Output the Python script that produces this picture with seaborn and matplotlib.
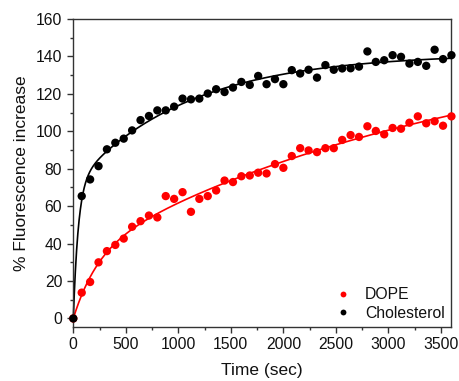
import numpy as np
import pandas as pd
import matplotlib
matplotlib.use("Agg")
import matplotlib.pyplot as plt
import seaborn as sns
from matplotlib.ticker import MultipleLocator

time_sec = [0, 80, 160, 240, 320, 400, 480, 560, 640, 720, 800, 880, 960, 1040, 1120,
            1200, 1280, 1360, 1440, 1520, 1600, 1680, 1760, 1840, 1920, 2000, 2080, 2160,
            2240, 2320, 2400, 2480, 2560, 2640, 2720, 2800, 2880, 2960, 3040, 3120, 3200,
            3280, 3360, 3440, 3520, 3600]
dope = [0, 13.8, 19.5, 30, 36, 39.3, 42.7, 49, 52, 55, 54, 65.4, 63.9, 67.5, 57,
        63.9, 65.4, 68.4, 73.7, 72.9, 76, 76.4, 77.9, 77.5, 82.5, 80.5, 86.8, 91,
        89.8, 88.9, 91, 91, 95.4, 98, 97, 102.7, 100.2, 98.4, 101.8, 101.4, 104.6,
        108, 104.3, 105.4, 103, 108]
cholesterol = [0, 65.4, 74.3, 81.4, 90.4, 93.9, 96.1, 100.5, 106, 108.2, 111.2, 111.2, 113.2,
               117.5, 117.1, 117.5, 120.2, 122.5, 121, 123.4, 126.4, 124.8, 129.6, 125.2,
               127.9, 125.2, 132.7, 130.9, 132.9, 128.7, 135.4, 132.9, 133.6, 133.7, 134.6,
               142.7, 137.1, 138, 140.7, 139.8, 136.2, 137.1, 135, 143.6, 138.6, 140.7]
series_names = ["DOPE", "Cholesterol"]
colors = {"DOPE": "#ff0000", "Cholesterol": "#000000"}

df = pd.DataFrame({
    "Time (sec)": time_sec * 2,
    "value": dope + cholesterol,
    "series": ["DOPE"] * len(time_sec) + ["Cholesterol"] * len(time_sec),
})


def fit_double_exp(t, y):
    t = np.asarray(t, float)
    y = np.asarray(y, float)
    best = None
    ks = np.logspace(-5, -1, 60)
    for i, k1 in enumerate(ks):
        for k2 in ks[i + 1:]:
            X = np.column_stack([1 - np.exp(-k1 * t), 1 - np.exp(-k2 * t)])
            coef, *_ = np.linalg.lstsq(X, y, rcond=None)
            r = np.sum((X @ coef - y) ** 2)
            if best is None or r < best[0]:
                best = (r, k1, k2, coef)
    _, k1, k2, coef = best
    return lambda tt: coef[0] * (1 - np.exp(-k1 * tt)) + coef[1] * (1 - np.exp(-k2 * tt))


sns.set_style("ticks")
plt.rcParams["font.family"] = ["Liberation Sans", "DejaVu Sans"]

fig = plt.figure(figsize=(4.6, 3.81), dpi=100)
ax = fig.add_axes([0.158, 0.142, 0.822, 0.808])

tt = np.linspace(0, 3600, 1500)
for name, vals in (("DOPE", dope), ("Cholesterol", cholesterol)):
    f = fit_double_exp(time_sec, vals)
    fit_df = pd.DataFrame({"t": tt, "y": f(tt)})
    sns.lineplot(data=fit_df, x="t", y="y", color=colors[name], lw=1.2, ax=ax,
                 legend=False, clip_on=False)

sns.scatterplot(data=df, x="Time (sec)", y="value", hue="series", hue_order=series_names,
                palette=colors, s=36, edgecolor="none", ax=ax, clip_on=False, zorder=3)

ax.set_xlim(-6, 3594)
ax.set_ylim(-4.5, 160)
ax.xaxis.set_major_locator(MultipleLocator(500))
ax.xaxis.set_minor_locator(MultipleLocator(250))
ax.yaxis.set_major_locator(MultipleLocator(20))
ax.yaxis.set_minor_locator(MultipleLocator(10))
ax.tick_params(which="major", direction="out", length=4.5, width=1, labelsize=11.3,
               colors="#333333", labelcolor="#111111", pad=3)
ax.tick_params(which="minor", direction="out", length=2.5, width=1, colors="#333333")
for s in ax.spines.values():
    s.set_visible(True)
    s.set_color("#333333")
    s.set_linewidth(1)
ax.set_xlabel("Time (sec)", fontsize=12.5, labelpad=8, color="#111111")
ax.set_ylabel("% Fluorescence increase", fontsize=12.5, labelpad=5, color="#111111")

leg = ax.legend(loc="lower right", frameon=False, fontsize=11.3, handletextpad=0.6,
                markerscale=0.7, borderaxespad=0.0, labelspacing=0.2, handlelength=1.6)
for t in leg.get_texts():
    t.set_color("#111111")
fig.savefig("out.png", dpi=100)
